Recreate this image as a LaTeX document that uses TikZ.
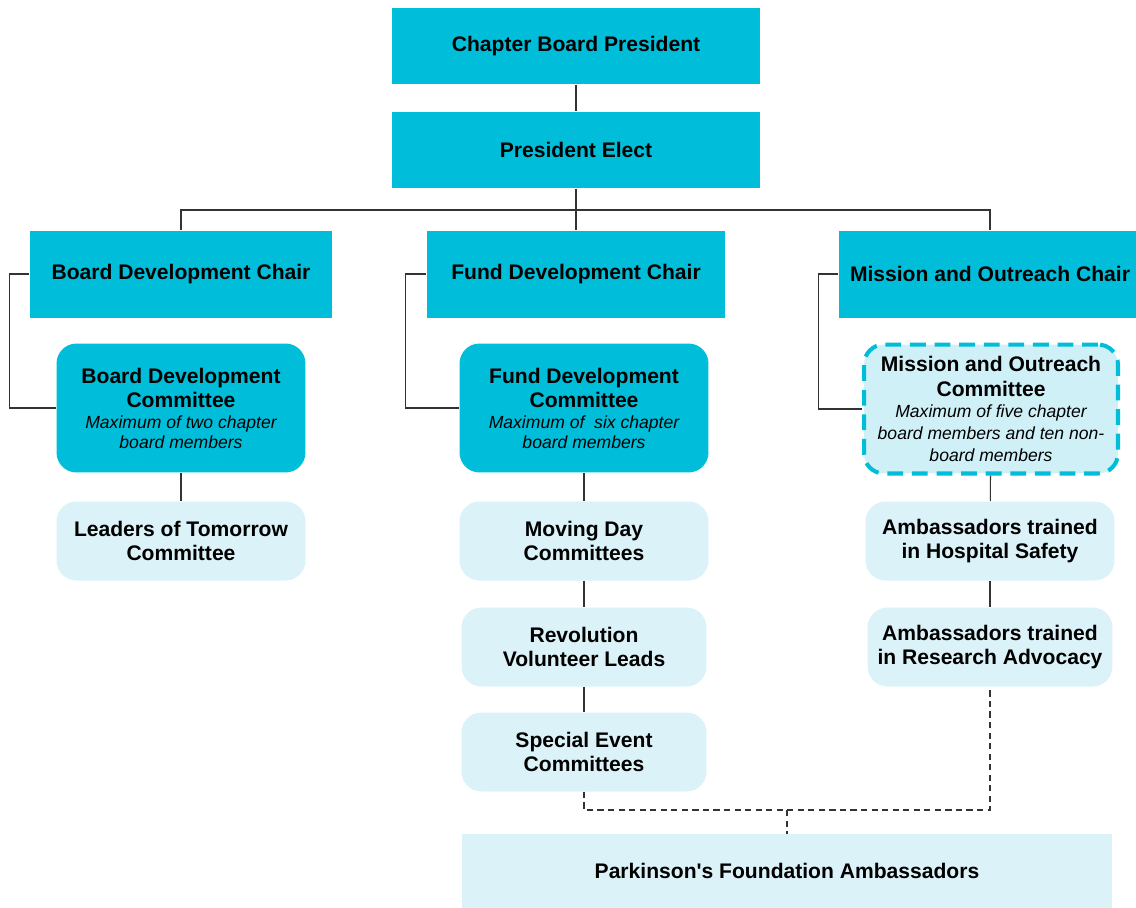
\documentclass[tikz,border=0pt]{standalone}
\usepackage{fontspec}
\setmainfont{Liberation Sans}[Ligatures=TeXOff]
\definecolor{chairblue}{HTML}{00BED9}
\definecolor{paleblue}{HTML}{DAF2F8}
\definecolor{dashfill}{HTML}{CFF0F7}

\begin{document}
\begin{tikzpicture}[x=0.02cm, y=-0.02cm,
		chair/.style={fill=chairblue, font=\fontsize{12}{14}\selectfont\bfseries, align=center, inner sep=2pt},
		committee/.style={chair, rounded corners=0.4cm, minimum width=4.98cm, minimum height=2.58cm},
		subcommittee/.style={chair, fill=paleblue, rounded corners=0.4cm, minimum width=4.9cm, minimum height=1.58cm},
		link/.style={draw=black!80, line width=0.6pt},
		ambassadorlink/.style={link, dash pattern=on 3.5pt off 2.5pt}]
	\useasboundingbox (0,0) rectangle (1136,907);
	% top of the chart
	\node[chair, minimum width=7.38cm, minimum height=1.53cm] (president) at (576,46) {Chapter Board President};
	\node[chair, minimum width=7.38cm, minimum height=1.53cm] (elect) at (576,150) {President Elect};
	% chairs
	\node[chair, minimum width=6.06cm, minimum height=1.74cm] (boardchair) at (181,274) {Board Development Chair};
	\node[chair, minimum width=5.98cm, minimum height=1.74cm] (fundchair) at (576,274) {Fund Development Chair};
	\node[chair, minimum width=6.06cm, minimum height=1.74cm] (missionchair) at (990,274) {Mission and Outreach Chair};
	% committees
	\node[committee] (boardcom) at (181,408) {Board Development\\Committee\\[-2pt]\fontsize{10}{12}\selectfont\mdseries\itshape Maximum of two chapter\\[-3pt]\fontsize{10}{12}\selectfont\mdseries\itshape board members};
	\node[committee] (fundcom) at (584,408) {Fund Development\\Committee\\[-2pt]\fontsize{10}{12}\selectfont\mdseries\itshape Maximum of\ \ six chapter\\[-3pt]\fontsize{10}{12}\selectfont\mdseries\itshape board members};
	\node[committee, fill=dashfill, draw=chairblue, line width=2.3pt, dash pattern=on 9pt off 5pt, minimum width=5.08cm] (missioncom) at (991,409) {Mission and Outreach\\Committee\\[-2pt]\fontsize{10}{12}\selectfont\mdseries\itshape Maximum of five chapter\\[-1.5pt]\fontsize{10}{12}\selectfont\mdseries\itshape board members and ten non-\\[-1.5pt]\fontsize{10}{12}\selectfont\mdseries\itshape board members};
	% sub committees
	\node[subcommittee, minimum width=4.98cm] (leaders) at (181,541) {Leaders of Tomorrow\\Committee};
	\node[subcommittee, minimum width=4.98cm] (movingday) at (584,541) {Moving Day\\Committees};
	\node[subcommittee] (revolution) at (584,647) {Revolution\\Volunteer Leads};
	\node[subcommittee] (specialevent) at (584,752) {Special Event\\Committees};
	\node[subcommittee, minimum width=4.98cm] (hospital) at (990,541) {Ambassadors trained\\in Hospital Safety};
	\node[subcommittee] (research) at (990,647) {Ambassadors trained\\in Research Advocacy};
	\node[chair, fill=paleblue, minimum width=13cm, minimum height=1.48cm] (ambassadors) at (787,871) {Parkinson's Foundation Ambassadors};
	% connectors
	\coordinate (bus) at (576,210);
	\coordinate (join) at (787,810);
	\draw[link] (president) -- (elect);
	\draw[link] (elect) -- (bus);
	\draw[link] (bus) -| (boardchair);
	\draw[link] (bus) -| (missionchair);
	\draw[link] (bus) -- (fundchair);
	\draw[link] (boardchair.west) -- ++(-20,0) |- (boardcom.west);
	\draw[link] (fundchair.west) -- ++(-21,0) |- (fundcom.west);
	\draw[link] (missionchair.west) -- ++(-20,0) |- (missioncom.west);
	\draw[link] (boardcom) -- (leaders);
	\draw[link] (fundcom) -- (movingday);
	\draw[link] (movingday) -- (revolution);
	\draw[link] (revolution) -- (specialevent);
	\draw[link] (missioncom) -- (hospital);
	\draw[link] (hospital) -- (research);
	\draw[ambassadorlink] (specialevent) |- (join) -| (research);
	\draw[ambassadorlink] (join) -- (ambassadors);
\end{tikzpicture}
\end{document}
